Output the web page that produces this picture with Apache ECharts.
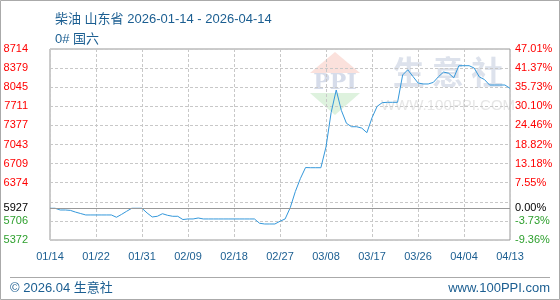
<!DOCTYPE html>
<html><head><meta charset="utf-8">
<script src="https://cdn.jsdelivr.net/npm/echarts@6/dist/echarts.min.js"></script>
<style>html,body{margin:0;padding:0;background:#fff}#c{width:560px;height:300px}</style>
</head><body><div id="c"></div>
<script>
const titleText = '柴油 山东省 2026-01-14 - 2026-04-14';
const subTitleText = '0# 国六';
const footerLeft = '© 2026.04 生意社';
const footerRight = 'www.100PPI.com';

// daily categories 2026-01-14 .. 2026-04-14
const startDate = Date.UTC(2026, 0, 14);
const dayCount = 91;
const categories = [];
for (let i = 0; i < dayCount; i++) {
  const d = new Date(startDate + i * 86400000);
  categories.push(String(d.getUTCMonth() + 1).padStart(2, '0') + '/' + String(d.getUTCDate()).padStart(2, '0'));
}

const prices = [
  5927, 5927, 5897, 5897, 5890, 5860, 5835, 5810, 5810, 5810,
  5810, 5810, 5810, 5770, 5820, 5875, 5927, 5927, 5927, 5844,
  5775, 5787, 5832, 5804, 5787, 5787, 5730, 5740, 5740, 5757,
  5740, 5740, 5740, 5740, 5740, 5740, 5740, 5740, 5740, 5740,
  5740, 5665, 5652, 5652, 5652, 5700, 5740, 5937, 6220, 6450,
  6640, 6637, 6637, 6637, 7000, 7600, 7997, 7640, 7414, 7354,
  7354, 7330, 7250, 7510, 7710, 7775, 7781, 7781, 7781, 8260,
  8350, 8235, 8120, 8102, 8102, 8130, 8229, 8310, 8290, 8210,
  8422, 8422, 8422, 8380, 8225, 8180, 8084, 8084, 8084, 8084,
  8026
];

const xTickLabels = ['01/14','01/22','01/31','02/09','02/18','02/27','03/08','03/17','03/26','04/04','04/13'];
const leftTickLabels = ['5372','5706','','6374','6709','7043','7377','7711','8045','8379','8714'];
const rightTickLabels = ['-9.36%','-3.73%','','7.55%','13.18%','18.82%','24.46%','30.10%','35.73%','41.37%','47.01%'];
const baseValue = 5927;
const baseLeftLabel = '5927';
const baseRightLabel = '0.00%';
const yMin = 5372, yMax = 8714, yStep = 334.2;
const xLabelEvery = 9;

const FONT = "'Liberation Sans', Arial, 'Noto Sans CJK SC', sans-serif";
const BLUE = '#1b5e91';
const RED = '#ff0000';
const GREEN = '#2ea02e';

const tickIndex = v => Math.round((v - yMin) / yStep);
const tickColor = v => (v < baseValue ? GREEN : RED);

const chart = echarts.init(document.getElementById('c'), null, {renderer: 'canvas'});
chart.setOption({
  animation: false,
  backgroundColor: '#fff',
  title: [
    {text: titleText, left: 50, top: 8, textStyle: {fontSize: 13, fontWeight: 'normal', color: BLUE, fontFamily: FONT}},
    {text: subTitleText, left: 50, top: 28, textStyle: {fontSize: 13, fontWeight: 'normal', color: BLUE, fontFamily: FONT}}
  ],
  grid: {left: 50, right: 50, top: 49, bottom: 60, show: true, borderColor: '#999', borderWidth: 1, backgroundColor: 'transparent'},
  xAxis: {
    type: 'category', data: categories, boundaryGap: false,
    axisLine: {show: false}, axisTick: {show: false},
    axisLabel: {interval: xLabelEvery - 1, margin: 11, color: BLUE, fontSize: 11, fontFamily: FONT,
      formatter: (v, i) => xTickLabels[Math.round(i / xLabelEvery)] || ''},
    splitLine: {show: true, interval: xLabelEvery - 1, lineStyle: {color: '#c8c8c8', type: [3, 2], width: 1}}
  },
  yAxis: [
    {type: 'value', min: yMin, max: yMax, interval: yStep, position: 'left',
      axisLine: {show: false}, axisTick: {show: false},
      axisLabel: {margin: 22, fontSize: 11, fontFamily: FONT, color: v => tickColor(v),
        formatter: v => leftTickLabels[tickIndex(v)] || ''},
      splitLine: {show: true, lineStyle: {color: '#c8c8c8', type: [3, 2], width: 1}}},
    {type: 'value', min: yMin, max: yMax, interval: yStep, position: 'right',
      axisLine: {show: false}, axisTick: {show: false},
      axisLabel: {margin: 5, fontSize: 11, fontFamily: FONT, color: v => tickColor(v),
        formatter: v => rightTickLabels[tickIndex(v)] || ''},
      splitLine: {show: false}}
  ],
  graphic: [
    {type: 'rect', silent: true, z: 100, shape: {x: 0.5, y: 0.5, width: 559, height: 299}, style: {fill: 'none', stroke: '#aaa', lineWidth: 1}},
    {type: 'line', silent: true, shape: {x1: 10, y1: 277.5, x2: 550, y2: 277.5}, style: {stroke: '#aaa', lineWidth: 1}},
    {type: 'text', silent: true, x: 10, y: 288, style: {text: footerLeft, fill: BLUE, font: '13px ' + FONT, textAlign: 'left', textVerticalAlign: 'middle', align: 'left', verticalAlign: 'middle'}},
    {type: 'text', silent: true, x: 550, y: 288, style: {text: footerRight, fill: BLUE, font: '13px ' + FONT, textAlign: 'right', textVerticalAlign: 'middle', align: 'right', verticalAlign: 'middle'}},
    // watermark
    {type: 'polygon', silent: true, z: -1, shape: {points: [[335, 52], [310, 73], [360, 73]]}, style: {fill: '#fbe1dc'}},
    {type: 'polygon', silent: true, z: -1, shape: {points: [[310, 93], [360, 93], [335, 115]]}, style: {fill: '#def2de'}},
    {type: 'text', silent: true, z: -1, x: 335, y: 83, style: {text: 'PPI', fill: '#d6dcea', font: 'bold 22px "DejaVu Serif", serif', textAlign: 'center', textVerticalAlign: 'middle', align: 'center', verticalAlign: 'middle'}},
    {type: 'text', silent: true, z: -1, x: 448, y: 72, style: {text: '生 意 社', fill: '#dde2ec', font: 'bold 32px "Noto Sans CJK SC", sans-serif', textAlign: 'center', textVerticalAlign: 'middle', align: 'center', verticalAlign: 'middle'}},
    {type: 'text', silent: true, z: -1, x: 448, y: 106, style: {text: 'WWW.100PPI.COM', fill: '#e6e6e6', font: '15px ' + FONT, textAlign: 'center', textVerticalAlign: 'middle', align: 'center', verticalAlign: 'middle'}}
  ],
  series: [{
    type: 'line', data: prices, showSymbol: false, symbol: 'none',
    lineStyle: {color: '#3498db', width: 1}, itemStyle: {color: '#3498db'},
    markLine: {
      silent: true, symbol: ['none', 'none'], animation: false,
      lineStyle: {color: '#999', type: 'solid', width: 1},
      data: [
        {yAxis: baseValue, label: {show: true, position: 'start', distance: 22, formatter: baseLeftLabel, color: '#000', fontSize: 11, fontFamily: FONT}},
        {yAxis: baseValue, label: {show: true, position: 'end', distance: 5, formatter: baseRightLabel, color: '#000', fontSize: 11, fontFamily: FONT}}
      ]
    }
  }]
});
</script>
</body></html>
